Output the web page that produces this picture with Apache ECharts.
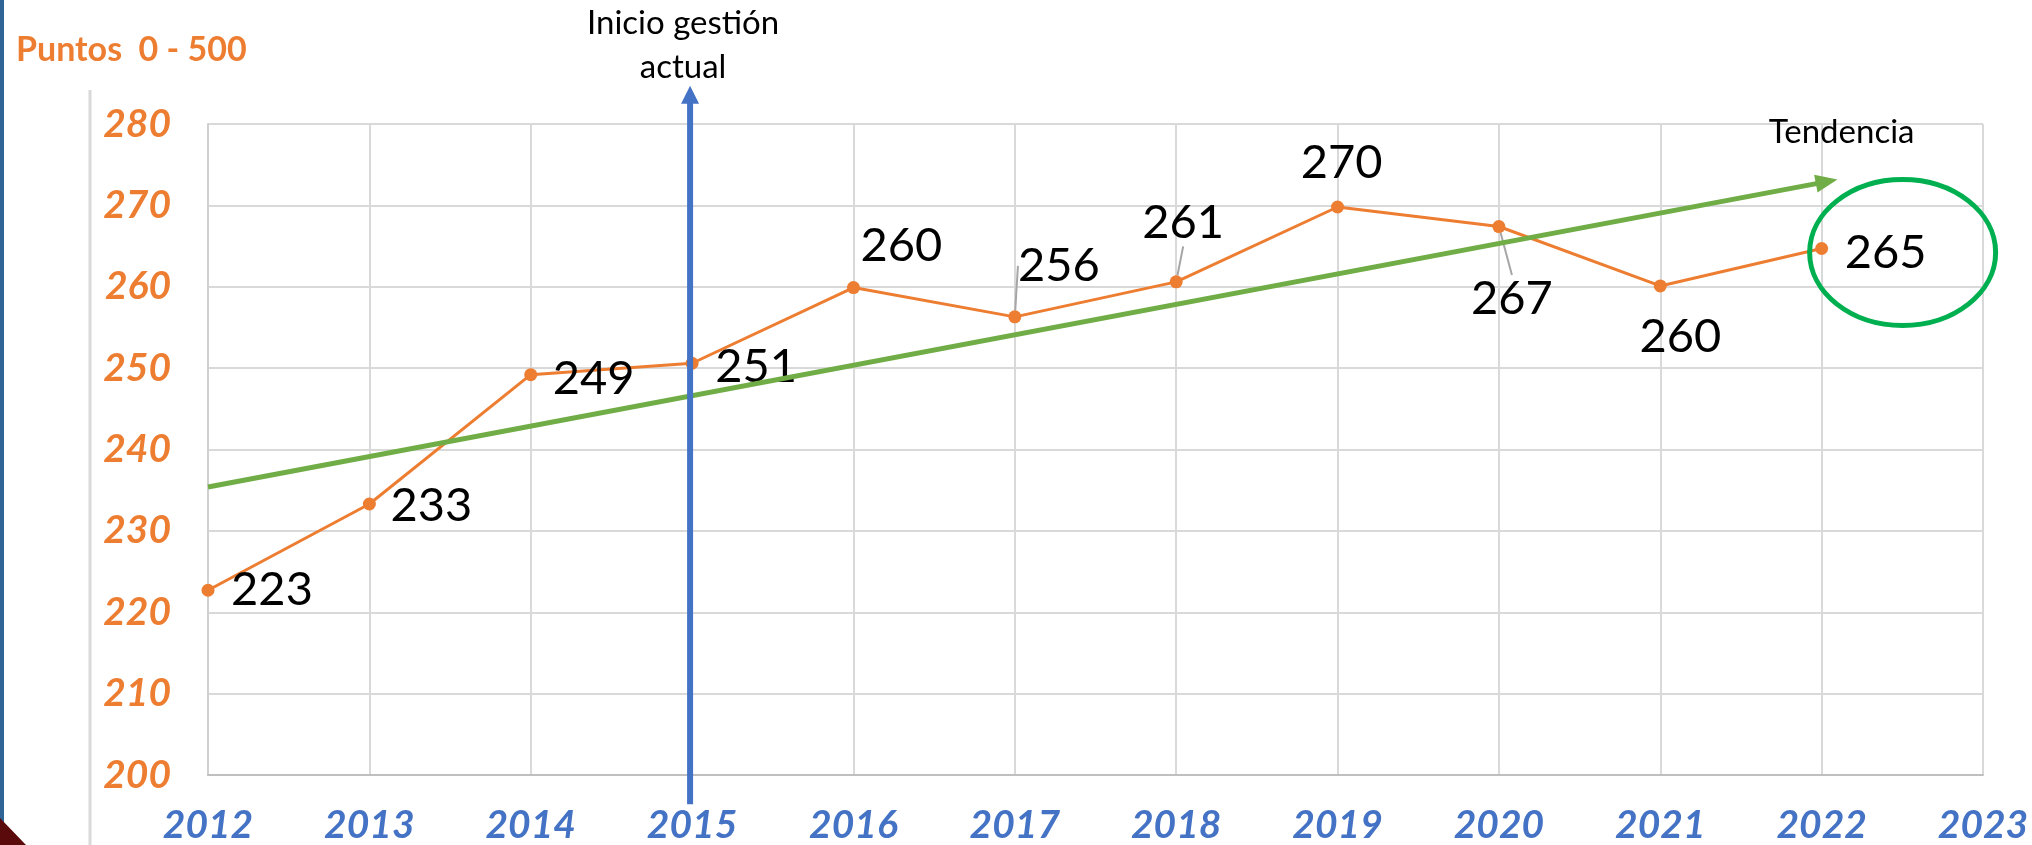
<!DOCTYPE html>
<html>
<head>
<meta charset="utf-8">
<script src="https://cdn.jsdelivr.net/npm/echarts@6/dist/echarts.min.js"></script>
<style>
html, body { margin: 0; padding: 0; background: #fff; }
#chart { width: 2032px; height: 845px; }
</style>
</head>
<body>
<div id="chart"></div>
<script>
var years = ['2012', '2013', '2014', '2015', '2016', '2017', '2018', '2019', '2020', '2021', '2022', '2023'];
var puntos = [222.7, 233.3, 249.2, 250.6, 259.9, 256.3, 260.6, 269.8, 267.4, 260.1, 264.7];
var tendencia = [['2012', 235.4], ['2022', 272.8]];
var inicioYear = '2015';
var arrowTop = 284.7, arrowBottom = 196.4;

// where each value label sits relative to its point
var labelOffset = [[64, 0], [62, 2], [63, 4], [64, 4], [48, -42], [44, -51], [7, -59], [4, -44], [13, 72], [20, 51], [64, 4]];
var withLeader = [5, 6, 8];

var chart = echarts.init(document.getElementById('chart'));

var puntosData = puntos.map(function (v, i) {
    return {
        value: v,
        label: { offset: labelOffset[i] },
        labelLine: { show: withLeader.indexOf(i) >= 0 }
    };
});

var trendData = tendencia.map(function (p, i) {
    if (i < tendencia.length - 1) return { value: p };
    return {
        value: p,
        symbol: 'triangle',
        symbolSize: [18, 22],
        symbolRotate: -79,
        symbolOffset: [5, -1],
        label: {
            show: true,
            formatter: 'Tendencia',
            position: 'top',
            distance: 22,
            offset: [15, 0],
            fontFamily: 'Lato',
            fontSize: 33,
            color: '#000'
        }
    };
});

var option = {
    animation: false,
    backgroundColor: '#fff',
    grid: { left: 208, right: 49, top: 124, bottom: 69 },
    xAxis: {
        type: 'category',
        data: years,
        boundaryGap: false,
        axisTick: { show: false },
        axisLine: { lineStyle: { color: '#BFBFBF', width: 2 } },
        splitLine: { show: true, lineStyle: { color: '#D9D9D9', width: 2 } },
        axisLabel: {
            color: '#4472C4',
            fontStyle: 'italic',
            fontWeight: 'bold',
            fontFamily: 'Lato',
            fontSize: 39,
            margin: 31,
            interval: 0
        }
    },
    yAxis: {
        type: 'value',
        min: 200,
        max: 280,
        interval: 10,
        axisLine: { show: true, lineStyle: { color: '#D0D0D0', width: 2 } },
        axisTick: { show: false },
        splitLine: { lineStyle: { color: '#D9D9D9', width: 2 } },
        axisLabel: {
            color: '#ED7D31',
            fontStyle: 'italic',
            fontWeight: 'bold',
            fontFamily: 'Lato',
            fontSize: 39,
            margin: 37
        }
    },
    series: [
        {
            name: 'Puntos',
            type: 'line',
            data: puntosData,
            symbol: 'circle',
            symbolSize: 13,
            z: 3,
            itemStyle: { color: '#ED7D31' },
            lineStyle: { color: '#ED7D31', width: 3 },
            label: {
                show: true,
                position: 'inside',
                formatter: function (p) { return Math.round(p.value); },
                fontFamily: 'Lato',
                fontSize: 47,
                color: '#000'
            },
            labelLine: { lineStyle: { color: '#A6A6A6', width: 2 } }
        },
        {
            name: 'Tendencia',
            type: 'line',
            data: trendData,
            symbol: 'none',
            z: 4,
            itemStyle: { color: '#70AD47' },
            lineStyle: { color: '#70AD47', width: 5 }
        }
    ]
};
chart.setOption(option);

// annotations placed from the axes
var ax = chart.convertToPixel({ xAxisIndex: 0 }, inicioYear) - 2;
var ayTop = chart.convertToPixel({ yAxisIndex: 0 }, arrowTop);
var ayBottom = chart.convertToPixel({ yAxisIndex: 0 }, arrowBottom);
var last = chart.convertToPixel({ seriesIndex: 0 }, [years[puntos.length - 1], puntos[puntos.length - 1]]);

chart.setOption({
    graphic: [
        { type: 'rect', shape: { x: 0, y: 0, width: 4, height: 845 }, style: { fill: '#2F6596' }, silent: true },
        { type: 'line', shape: { x1: 90, y1: 90, x2: 90, y2: 845 }, style: { stroke: '#D9D9D9', lineWidth: 3 }, silent: true },
        { type: 'polygon', shape: { points: [[0, 818], [26, 845], [0, 845]] }, style: { fill: '#5A0A0A' }, silent: true },
        {
            type: 'text', left: 16, top: 33,
            style: { text: 'Puntos  0 - 500', font: 'bold 34px Lato', fill: '#ED7D31' }
        },
        {
            type: 'text', x: ax - 7, y: 1,
            style: { text: 'Inicio gestión\nactual', font: '33px Lato', fill: '#000', align: 'center', verticalAlign: 'top', lineHeight: 44 }
        },
        {
            type: 'line', z: 100,
            shape: { x1: ax, y1: ayBottom, x2: ax, y2: ayTop + 16 },
            style: { stroke: '#4472C4', lineWidth: 6 }
        },
        {
            type: 'polygon', z: 100,
            shape: { points: [[ax, ayTop], [ax - 9, ayTop + 18], [ax + 9, ayTop + 18]] },
            style: { fill: '#4472C4' }
        },
        {
            type: 'ellipse', z: 100,
            shape: { cx: last[0] + 81, cy: last[1] + 4, rx: 93, ry: 73 },
            style: { fill: 'none', stroke: '#00B050', lineWidth: 5 }
        }
    ]
});
</script>
</body>
</html>
